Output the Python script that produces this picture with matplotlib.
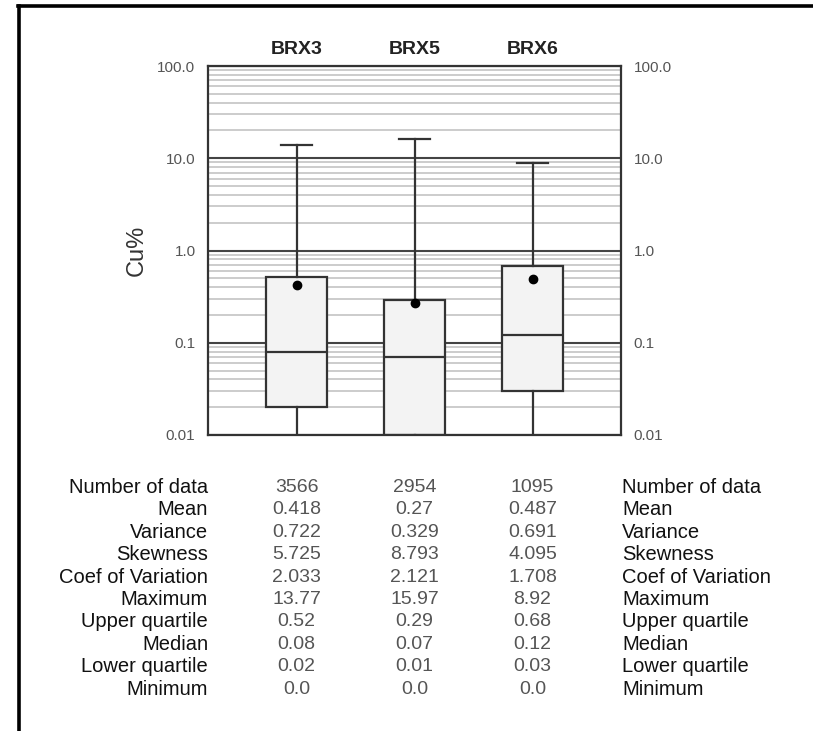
import numpy as np
import matplotlib
matplotlib.use('Agg')
import matplotlib.pyplot as plt
import matplotlib.transforms as mtransforms
from matplotlib.lines import Line2D
from matplotlib.ticker import FixedLocator, LogLocator, NullFormatter

plt.rcParams['font.family'] = ['Liberation Sans', 'DejaVu Sans']

# ------ data
groups = ['BRX3', 'BRX5', 'BRX6']
n_data = ['3566', '2954', '1095']
mean = [0.418, 0.27, 0.487]
variance = [0.722, 0.329, 0.691]
skewness = [5.725, 8.793, 4.095]
coef_var = [2.033, 2.121, 1.708]
maximum = [13.77, 15.97, 8.92]
upper_q = [0.52, 0.29, 0.68]
median = [0.08, 0.07, 0.12]
lower_q = [0.02, 0.01, 0.03]
minimum = [0.0, 0.0, 0.0]

y_ticks = [0.01, 0.1, 1.0, 10.0, 100.0]
y_tick_labels = ['0.01', '0.1', '1.0', '10.0', '100.0']

row_names = ['Number of data', 'Mean', 'Variance', 'Skewness', 'Coef of Variation',
             'Maximum', 'Upper quartile', 'Median', 'Lower quartile', 'Minimum']

W, H = 813, 731
fig = plt.figure(figsize=(W / 100, H / 100), dpi=100)
ax = fig.add_axes([208 / W, 1 - 435 / H, 413 / W, 369 / H])

# ------ boxes
y_floor = 1e-3  # zero minimum cannot sit on a log axis, so push it below the frame
stats = []
for i in range(len(groups)):
    stats.append({'label': groups[i], 'med': median[i], 'q1': lower_q[i], 'q3': upper_q[i],
                  'whislo': max(minimum[i], y_floor), 'whishi': maximum[i], 'mean': mean[i]})

positions = np.arange(1, len(groups) + 1)
edge = '#333333'
ax.bxp(stats, positions=positions, widths=0.51, capwidths=0.27, patch_artist=True,
       showmeans=True, showfliers=False,
       boxprops=dict(facecolor='#f3f3f3', edgecolor=edge, linewidth=1.6),
       medianprops=dict(color=edge, linewidth=1.6),
       whiskerprops=dict(color=edge, linewidth=1.6),
       capprops=dict(color=edge, linewidth=1.6),
       meanprops=dict(marker='o', markerfacecolor='black', markeredgecolor='black',
                      markersize=6))

ax.set_yscale('log')
ax.set_ylim(0.01, 100)
ax.set_xlim(0.25, 3.75)
ax.set_xticks([])

ax.yaxis.set_major_locator(FixedLocator(y_ticks))
ax.set_yticklabels(y_tick_labels)
ax.yaxis.set_minor_locator(LogLocator(base=10, subs=np.arange(2, 10)))
ax.yaxis.set_minor_formatter(NullFormatter())
ax.tick_params(axis='y', which='both', length=0, labelright=True, labelleft=True,
               labelsize=11, labelcolor='#555555', pad=9)
ax.grid(axis='y', which='minor', color='#c8c8c8', linewidth=1.3)
ax.grid(axis='y', which='major', color='#444444', linewidth=1.5)
ax.set_axisbelow(True)
for s in ax.spines.values():
    s.set_color(edge)
    s.set_linewidth(1.6)

tr_x = mtransforms.blended_transform_factory(ax.transData, fig.transFigure)
tr_a = mtransforms.blended_transform_factory(ax.transAxes, fig.transFigure)

# group names above the boxes
for p, g in zip(positions, groups):
    fig.text(p, 1 - 49 / H, g, transform=tr_x, ha='center', va='center',
             fontsize=14, fontweight='bold', color='#222222')

fig.text(137 / W, 1 - 250 / H, 'Cu%', rotation=90, ha='center', va='center',
         fontsize=17, color='#333333')

# ------ statistics table under the chart
columns = [n_data, mean, variance, skewness, coef_var, maximum, upper_q, median, lower_q, minimum]
for r, name in enumerate(row_names):
    y = 1 - (487.5 + r * 22.4) / H
    fig.text(0, y, name, transform=tr_a, ha='right', va='center', fontsize=14.5, color='#111111')
    fig.text(1.003, y, name, transform=tr_a, ha='left', va='center', fontsize=14.5, color='#111111')
    for p, v in zip(positions, columns[r]):
        fig.text(p, y, str(v), transform=tr_x, ha='center', va='center',
                 fontsize=14, color='#555555')

# frame lines of the page
fig.add_artist(Line2D([19 / W, 19 / W], [0, 1 - 6 / H], color='black', linewidth=2.6,
                      transform=fig.transFigure))
fig.add_artist(Line2D([17.5 / W, 1], [1 - 6 / H, 1 - 6 / H], color='black', linewidth=2.6,
                      transform=fig.transFigure))

fig.savefig('out.png', dpi=100)
